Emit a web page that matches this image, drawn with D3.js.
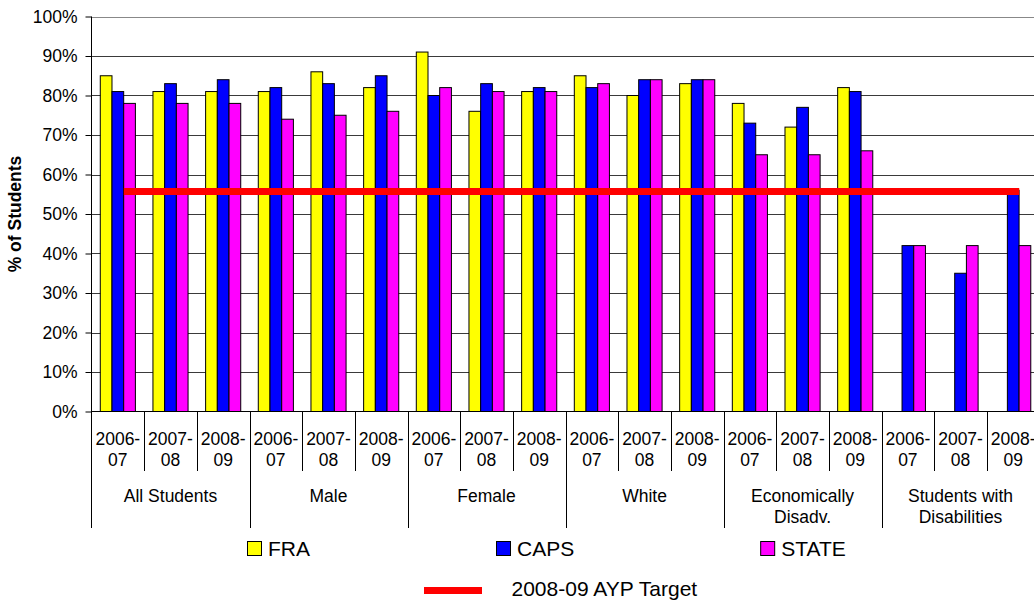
<!DOCTYPE html>
<html>
<head>
<meta charset="utf-8">
<script src="https://d3js.org/d3.v7.min.js"></script>
<style>
body { margin: 0; background: #fff; }
svg text { font-family: "Liberation Sans", Arial, sans-serif; fill: #000; }
</style>
</head>
<body>
<svg id="chart" width="1034" height="600"></svg>
<script>
// groups and school years on the x axis
var groups = [["All Students"], ["Male"], ["Female"], ["White"], ["Economically", "Disadv."], ["Students with", "Disabilities"]];
var years = ["2006-07", "2007-08", "2008-09"];
var series = ["FRA", "CAPS", "STATE"];

// % of students, one value per group/year (18 values)
var fra   = [85, 81, 81,  81, 86, 82,  91, 76, 81,  85, 80, 83,  78, 72, 82,  null, null, null];
var caps  = [81, 83, 84,  82, 83, 85,  80, 83, 82,  82, 84, 84,  73, 77, 81,  42, 35, 56];
var state = [78, 78, 78,  74, 75, 76,  82, 81, 81,  83, 84, 84,  65, 65, 66,  42, 42, 42];
var aypTarget = 55.7;
var yTicks = [0, 10, 20, 30, 40, 50, 60, 70, 80, 90, 100];

var colors = {FRA: "#ffff00", CAPS: "#0000ff", STATE: "#ff00ff"};

// build the flat category list
var cats = [];
groups.forEach(function(g, gi){
  years.forEach(function(yr, yi){
    var i = gi * years.length + yi;
    cats.push({id: i, group: gi, year: yr, FRA: fra[i], CAPS: caps[i], STATE: state[i]});
  });
});

var svg = d3.select("#chart");
var plotLeft = 91.5, step = 52.67;
var plotTop = 16.5, plotBottom = 411.5;

var x0 = d3.scaleBand()
  .domain(cats.map(function(d){ return d.id; }))
  .range([plotLeft, plotLeft + step * cats.length])
  .padding(0);

var x1 = d3.scaleBand()
  .domain(series)
  .range([0, x0.bandwidth()])
  .paddingInner(0)
  .paddingOuter(0.75);

var y = d3.scaleLinear().domain([0, 100]).range([plotBottom, plotTop]);

// gridlines
svg.append("g")
  .selectAll("line")
  .data(yTicks.slice(1))
  .enter().append("line")
  .attr("x1", plotLeft).attr("x2", 1034)
  .attr("y1", function(d){ return Math.round(y(d)) + 0.5; })
  .attr("y2", function(d){ return Math.round(y(d)) + 0.5; })
  .attr("stroke", function(d){ return d === 100 ? "#888" : "#3a3a3a"; })
  .attr("stroke-width", 1);

// bars
var bars = svg.append("g");
series.forEach(function(s){
  bars.selectAll(".bar-" + s)
    .data(cats.filter(function(d){ return d[s] != null; }))
    .enter().append("rect")
    .attr("class", "bar-" + s)
    .attr("x", function(d){ return x0(d.id) + x1(s); })
    .attr("y", function(d){ return y(d[s]); })
    .attr("width", x1.bandwidth())
    .attr("height", function(d){ return y(0) - y(d[s]); })
    .attr("fill", colors[s])
    .attr("stroke", "#000")
    .attr("stroke-width", 1);
});

// target line
var first = cats[0].id, last = cats[cats.length - 1].id;
svg.append("line")
  .attr("x1", x0(first) + x0.bandwidth() / 2 + 6)
  .attr("x2", x0(last) + x0.bandwidth() / 2 + 6)
  .attr("y1", y(aypTarget)).attr("y2", y(aypTarget))
  .attr("stroke", "#ff0000")
  .attr("stroke-width", 7);

// y axis
var yAxis = d3.axisLeft(y)
  .tickValues(yTicks)
  .tickSize(6)
  .tickPadding(8)
  .tickFormat(function(d){ return d + "%"; });

var ya = svg.append("g")
  .attr("transform", "translate(" + plotLeft + ",0)")
  .call(yAxis);
ya.select(".domain").remove();
ya.selectAll(".tick line").attr("stroke", "#000");
ya.selectAll(".tick text")
  .style("font-size", "17.5px")
  .style("font-family", "Liberation Sans, Arial, sans-serif")
  .attr("fill", "#000");

svg.append("line")
  .attr("x1", plotLeft).attr("x2", plotLeft)
  .attr("y1", plotTop).attr("y2", 528)
  .attr("stroke", "#000");

// x axis baseline
svg.append("line")
  .attr("x1", plotLeft).attr("x2", 1034)
  .attr("y1", plotBottom).attr("y2", plotBottom)
  .attr("stroke", "#000");

svg.append("text")
  .attr("transform", "translate(21," + ((plotTop + plotBottom) / 2) + ") rotate(-90)")
  .attr("text-anchor", "middle")
  .style("font-size", "17.5px")
  .style("font-weight", "bold")
  .text("% of Students");

// category separators
var xa = svg.append("g");
cats.forEach(function(d){
  if (d.id === 0) return;
  var xx = Math.round(x0(d.id)) + 0.5;
  var isGroup = d.id % years.length === 0;
  xa.append("line")
    .attr("x1", xx).attr("x2", xx)
    .attr("y1", plotBottom).attr("y2", isGroup ? 528 : 471)
    .attr("stroke", "#000");
});

// year labels
var yl = xa.selectAll(".yr")
  .data(cats)
  .enter().append("text")
  .attr("class", "yr")
  .attr("text-anchor", "middle")
  .style("font-size", "17.5px");
yl.append("tspan")
  .attr("x", function(d){ return x0(d.id) + x0.bandwidth() / 2; })
  .attr("y", 445)
  .text(function(d){ return d.year.split("-")[0] + "-"; });
yl.append("tspan")
  .attr("x", function(d){ return x0(d.id) + x0.bandwidth() / 2; })
  .attr("y", 466)
  .text(function(d){ return d.year.split("-")[1]; });

// group labels
groups.forEach(function(g, gi){
  var cx = x0(gi * years.length) + x0.bandwidth() * years.length / 2;
  var t = xa.append("text")
    .attr("text-anchor", "middle")
    .style("font-size", "17.5px");
  g.forEach(function(line, li){
    t.append("tspan").attr("x", cx).attr("y", 502 + li * 21).text(line);
  });
});

// legend
var lg = svg.append("g");
var lx = 247.5;
series.forEach(function(s){
  lg.append("rect")
    .attr("x", lx).attr("y", 541.5)
    .attr("width", 14).attr("height", 14)
    .attr("fill", colors[s])
    .attr("stroke", "#000");
  var t = lg.append("text")
    .attr("x", lx + 20.5).attr("y", 556)
    .style("font-size", "21px")
    .text(s);
  lx = lx + 20.5 + t.node().getComputedTextLength() + 186.5;
});

lg.append("line")
  .attr("x1", 424).attr("x2", 482)
  .attr("y1", 590.5).attr("y2", 590.5)
  .attr("stroke", "#ff0000")
  .attr("stroke-width", 7);
lg.append("text")
  .attr("x", 511.5).attr("y", 596)
  .style("font-size", "21px")
  .text("2008-09 AYP Target");
</script>
</body>
</html>
